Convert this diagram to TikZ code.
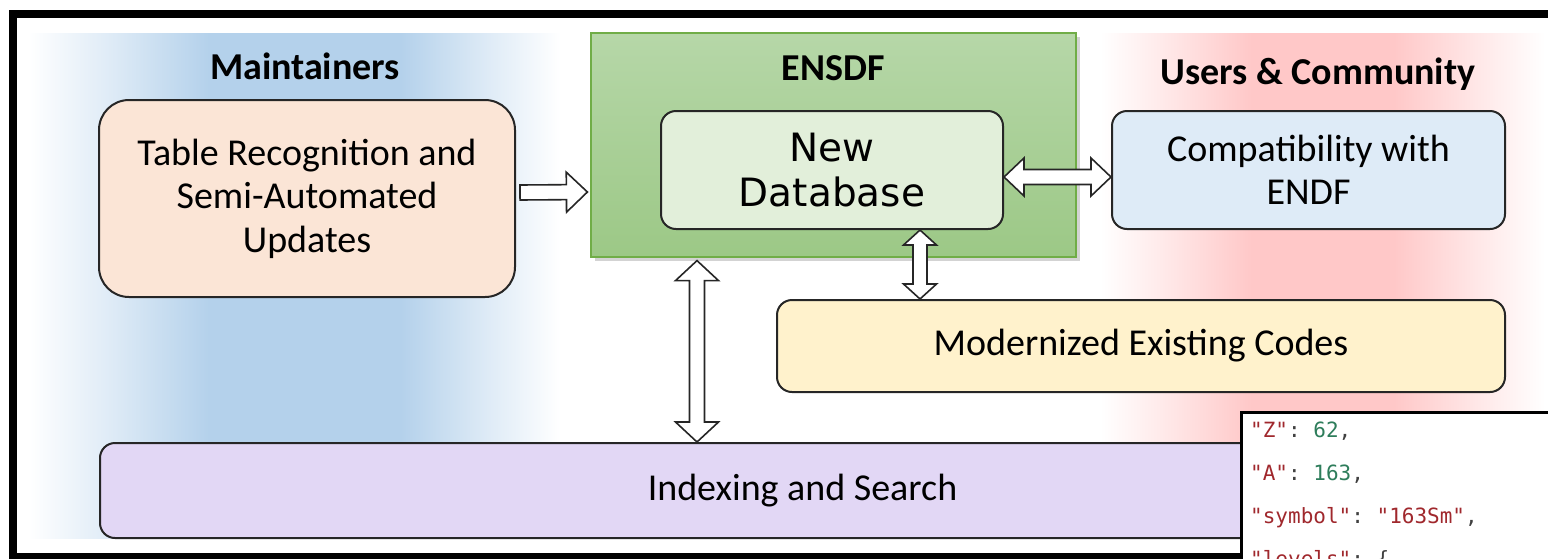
\documentclass[tikz,border=0pt]{standalone}
\usepackage{fontspec}
\setmainfont{Carlito}
\setmonofont{DejaVu Sans Mono}
\newfontfamily\dbfont{DejaVu Sans}
\usepackage{xcolor}
\usepackage{tikz}
\usetikzlibrary{positioning,calc,shadows}

\definecolor{colblue}{HTML}{B4D1EB}
\definecolor{colpink}{HTML}{FFC8C8}
\colorlet{blueA}{colblue!45}
\colorlet{pinkA}{colpink!45}
\definecolor{ensdftop}{HTML}{B6D7A8}
\definecolor{ensdfbot}{HTML}{9CC886}
\definecolor{ensdfline}{HTML}{70AD47}
\definecolor{tabfill}{HTML}{FBE5D6}
\definecolor{dbfill}{HTML}{E2EFDA}
\definecolor{compfill}{HTML}{DEEBF7}
\definecolor{modfill}{HTML}{FFF2CC}
\definecolor{idxfill}{HTML}{E2D7F5}
\definecolor{keyred}{HTML}{A0282D}
\definecolor{numgreen}{HTML}{2E7D5B}

\pgfdeclarehorizontalshading{bluefade}{100bp}{color(0bp)=(white); color(25bp)=(white); color(33bp)=(blueA); color(42bp)=(colblue); color(60bp)=(colblue); color(68bp)=(blueA); color(75bp)=(white); color(100bp)=(white)}
\pgfdeclarehorizontalshading{pinkfade}{100bp}{color(0bp)=(white); color(25bp)=(white); color(33bp)=(pinkA); color(42bp)=(colpink); color(58bp)=(colpink); color(67bp)=(pinkA); color(75bp)=(white); color(100bp)=(white)}

\tikzset{
  bshaft/.store in=\bshaft, bhead/.store in=\bhead, blen/.store in=\blen,
  bshaft=7.5pt, bhead=20pt, blen=20pt
}

\begin{document}
\begin{tikzpicture}[x=1pt, y=-1pt,
  font=\fontsize{38}{43}\selectfont,
  box/.style={rounded corners=15pt, draw=black!85, line width=2pt, align=center, inner sep=0pt},
  head/.style={font=\fontsize{38}{43}\selectfont\bfseries, anchor=base},
  column/.style={shade, inner sep=0pt, anchor=north west},
  ensdfbox/.style={top color=ensdftop, bottom color=ensdfbot, draw=ensdfline, line width=1.2pt,
    minimum width=485pt, minimum height=224pt,
    drop shadow={shadow xshift=4pt, shadow yshift=-4pt, opacity=0.35}},
  codeline/.style={font=\ttfamily\fontsize{21}{24}\selectfont, text=black!75, anchor=base west, inner sep=0pt},
  fatarrow/.style={draw=black!85, fill=white, line width=1.6pt, line join=miter,
    to path={let \p1=(\tikztostart), \p2=(\tikztotarget), \n1={atan2(\y2-\y1,\x2-\x1)} in
      ($(\p1)+(\n1+90:\bshaft)$) -- ($(\p2)+(\n1+180:\blen)+(\n1+90:\bshaft)$)
      -- ($(\p2)+(\n1+180:\blen)+(\n1+90:\bhead)$) -- (\p2)
      -- ($(\p2)+(\n1+180:\blen)+(\n1-90:\bhead)$) -- ($(\p2)+(\n1+180:\blen)+(\n1-90:\bshaft)$)
      -- ($(\p1)+(\n1-90:\bshaft)$) -- cycle}},
  fatboth/.style={draw=black!85, fill=white, line width=1.6pt, line join=miter,
    to path={let \p1=(\tikztostart), \p2=(\tikztotarget), \n1={atan2(\y2-\y1,\x2-\x1)} in
      (\p1) -- ($(\p1)+(\n1:\blen)+(\n1+90:\bhead)$) -- ($(\p1)+(\n1:\blen)+(\n1+90:\bshaft)$)
      -- ($(\p2)+(\n1+180:\blen)+(\n1+90:\bshaft)$) -- ($(\p2)+(\n1+180:\blen)+(\n1+90:\bhead)$)
      -- (\p2)
      -- ($(\p2)+(\n1+180:\blen)+(\n1-90:\bhead)$) -- ($(\p2)+(\n1+180:\blen)+(\n1-90:\bshaft)$)
      -- ($(\p1)+(\n1:\blen)+(\n1-90:\bshaft)$) -- ($(\p1)+(\n1:\blen)+(\n1-90:\bhead)$) -- cycle}}
]
\useasboundingbox (0,0) rectangle (1548,558);
\clip (0,0) rectangle (1548,558);

% frame
\draw[line width=8pt] (13,14) rectangle (1600,556.5);

% background columns
\node[column, shading=bluefade, minimum width=532pt, minimum height=505pt] (maintcol) at (28,33) {};
\node[column, shading=pinkfade, minimum width=445pt, minimum height=505pt] (usercol) at (1100,33) {};
\node[ensdfbox] (ensdf) at (833.5,145) {};

% headings
\node[head] (mainthead) at (305,79) {Maintainers};
\node[head] (ensdfhead) at (833,80) {ENSDF};
\node[head] (userhead) at (1318,84) {Users \& Community};

% boxes
\node[box, rounded corners=30pt, fill=tabfill, minimum width=416pt, minimum height=197pt, font=\fontsize{38}{43.5}\selectfont] (tab) at (307,198.5) {Table Recognition and\\Semi-Automated\\Updates};
\node[box, fill=dbfill, minimum width=342pt, minimum height=118pt, font=\dbfont\fontsize{39}{45}\selectfont] (db) at (832,170) {New\\Database};
\node[box, fill=compfill, minimum width=393pt, minimum height=118pt] (comp) at (1308.5,170) {Compatibility with\\ENDF};
\node[box, fill=modfill, minimum width=728pt, minimum height=92pt] (mod) at (1141,346) {Modernized Existing Codes};
\node[box, fill=idxfill, minimum width=1405pt, minimum height=95pt] (idx) at (802.5,490.5) {Indexing and Search};

% block arrows
\draw[fatarrow, bshaft=7.5pt, bhead=20pt, blen=21pt] ($(tab.east)+(4,-6)$) to ($(ensdf.west)+(-3,47)$);
\draw[fatboth, bshaft=7.5pt, bhead=19pt, blen=20pt] ($(db.east)+(0,7)$) to ($(comp.west)+(0,7)$);
\draw[fatboth, bshaft=7pt, bhead=16.5pt, blen=15pt] ($(db.south)+(88,0)$) to ($(mod.north)+(-221,0)$);
\draw[fatboth, bshaft=7.5pt, bhead=21.5pt, blen=20pt] ($(ensdf.south)+(-136.5,3)$) to ($(idx.north)+(-105.5,0)$);

% json panel
\node[draw=black, line width=2.5pt, fill=white, anchor=north west, minimum width=400pt, minimum height=200pt] (json) at (1240,411) {};
\node[codeline] (zline) at (1250,437) {\textcolor{keyred}{"Z"}: \textcolor{numgreen}{62},};
\node[codeline] (aline) at (1250,480) {\textcolor{keyred}{"A"}: \textcolor{numgreen}{163},};
\node[codeline] (symline) at (1250,523) {\textcolor{keyred}{"symbol"}: \textcolor{keyred}{"163Sm"},};
\node[codeline] (lvline) at (1250,566) {\textcolor{keyred}{"levels"}: \{};
\end{tikzpicture}
\end{document}
